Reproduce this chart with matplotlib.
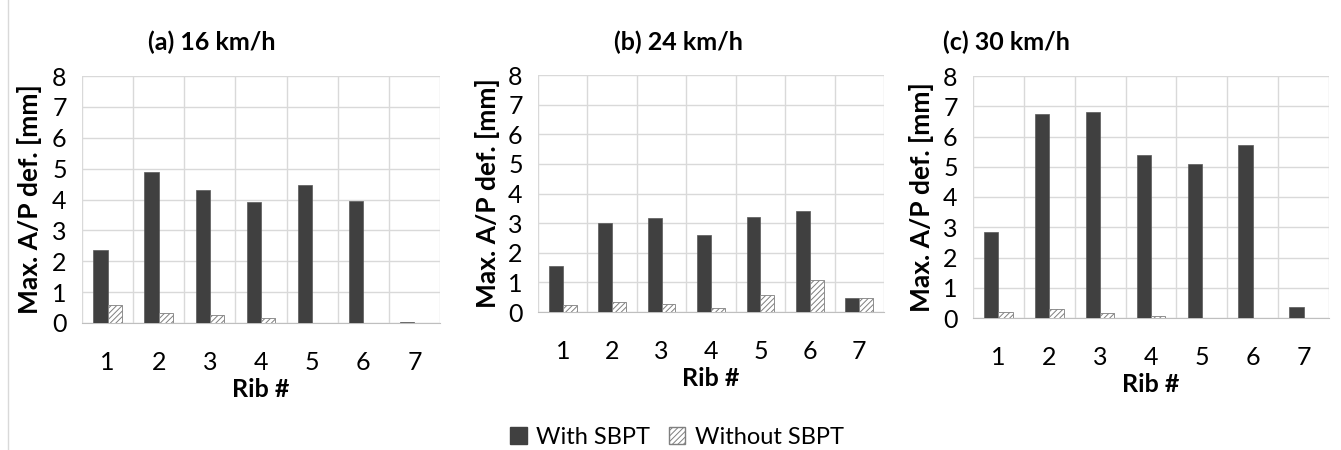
"""Max. A/P deflection per rib, with and without SBPT, at three impact speeds."""
import numpy as np
import matplotlib
matplotlib.use("Agg")
import matplotlib.pyplot as plt
from matplotlib.patches import Patch

ribs = [1, 2, 3, 4, 5, 6, 7]
panel_titles = ["(a) 16 km/h", "(b) 24 km/h", "(c) 30 km/h"]

with_16 = [2.36, 4.88, 4.32, 3.92, 4.46, 3.95, 0.03]
without_16 = [0.59, 0.32, 0.26, 0.15, 0.0, 0.0, 0.0]
with_24 = [1.56, 3.00, 3.17, 2.61, 3.21, 3.42, 0.46]
without_24 = [0.22, 0.35, 0.27, 0.12, 0.57, 1.09, 0.46]
with_30 = [2.85, 6.73, 6.80, 5.40, 5.08, 5.73, 0.36]
without_30 = [0.19, 0.31, 0.17, 0.07, 0.0, 0.0, 0.0]

DARK = "#404040"
GRID = "#d9d9d9"
plt.rcParams["font.family"] = ["Lato", "DejaVu Sans"]
plt.rcParams["hatch.color"] = "#7f7f7f"
plt.rcParams["hatch.linewidth"] = 0.7

fig = plt.figure(figsize=(13.41, 4.5), dpi=100)

# axes rectangles in pixels: left, right, top(8), bottom(0)
boxes = [(82, 440, 76, 323), (538, 884, 75, 312), (973, 1329, 76, 318)]
title_x = [212, 678, 1006]
ylab_x = [30, 487, 922]
W, H = 1341, 450

data = [(with_16, without_16), (with_24, without_24), (with_30, without_30)]
x = np.arange(len(ribs))
bw = 0.28

for (l, r, t, b), (w, wo), title, tx, yx in zip(boxes, data, panel_titles, title_x, ylab_x):
    ax = fig.add_axes([l / W, 1 - b / H, (r - l) / W, (b - t) / H])
    ax.bar(x - bw / 2, w, bw, color=DARK, edgecolor="#595959", linewidth=0.5, zorder=3)
    ax.bar(x + bw / 2, wo, bw, color="white", edgecolor="#7f7f7f", hatch="//////",
           linewidth=0.6, zorder=3)
    ax.set_xlim(-0.5, len(ribs) - 0.5)
    ax.set_ylim(0, 8)
    ax.set_yticks(range(0, 9))
    ax.set_xticks(x, [str(v) for v in ribs])
    # category boundaries as vertical grid lines (Excel style)
    for xb in np.arange(-0.5, len(ribs), 1.0):
        ax.axvline(xb, color=GRID, lw=1, zorder=0)
    ax.yaxis.grid(True, color=GRID, lw=1, zorder=0)
    ax.set_axisbelow(True)
    for s in ["top", "right", "left"]:
        ax.spines[s].set_visible(False)
    ax.spines["bottom"].set_color("#bfbfbf")
    ax.tick_params(axis="x", length=0, labelsize=18, pad=20)
    ax.tick_params(axis="y", length=0, labelsize=18, pad=11)
    ax.set_xlabel("Rib #", fontsize=18, fontweight="bold", labelpad=3)
    fig.text(tx / W, 1 - 42 / H, title, ha="center", va="center",
             fontsize=18, fontweight="bold")
    fig.text(yx / W, 1 - ((t + b) / 2) / H, "Max. A/P def. [mm]", rotation=90,
             ha="center", va="center", fontsize=19, fontweight="bold")

handles = [Patch(facecolor=DARK, edgecolor=DARK, label="With SBPT"),
           Patch(facecolor="white", edgecolor="#7f7f7f", hatch="//////", label="Without SBPT")]
fig.legend(handles=handles, loc="center", bbox_to_anchor=(677 / W, 1 - 437 / H),
           ncol=2, frameon=False, fontsize=17, handlelength=0.7, handleheight=0.7,
           handletextpad=0.4, columnspacing=0.8)

# faint border line at the left edge
fig.add_artist(plt.Line2D([8 / W, 8 / W], [0, 1], color="#d9d9d9", lw=1))

fig.savefig("out.png", dpi=100)
